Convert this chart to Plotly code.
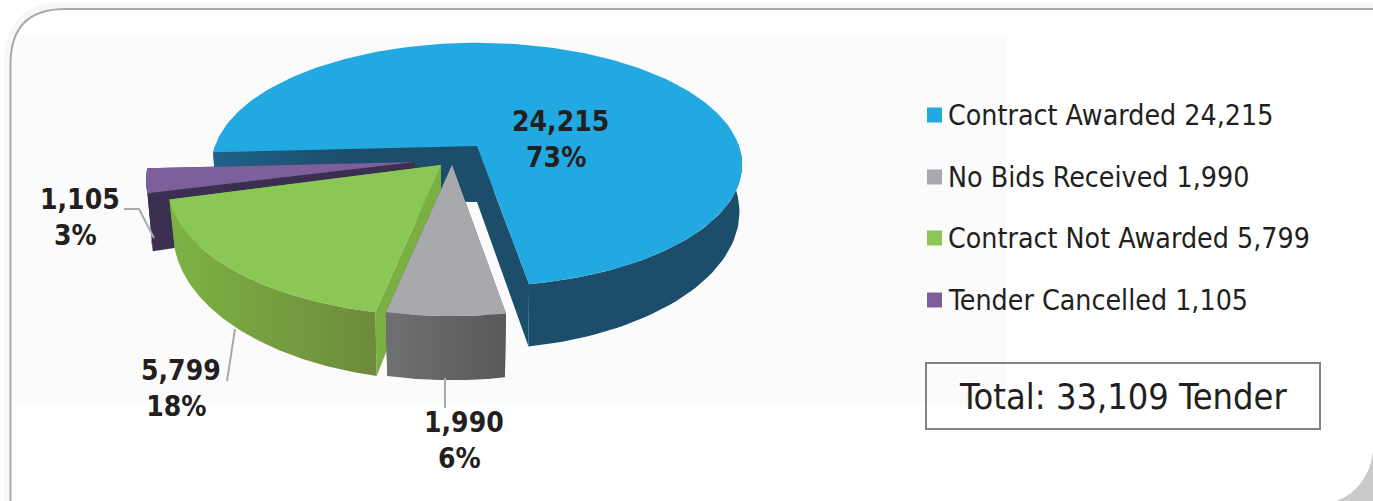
import numpy as np
import plotly.graph_objects as go

categories = ["Contract Awarded", "No Bids Received", "Contract Not Awarded", "Tender Cancelled"]
values = [24215, 1990, 5799, 1105]
total_label = "Total: 33,109 Tender"

top_colors = ["#23a9e1", "#a7a9ac", "#8bc755", "#7d5f9c"]
wall_colors = [[[0, "#1d6288"], [0.25, "#1c4e6b"], [1, "#1c4e6b"]],
               [[0, "#6f7072"], [1, "#58595b"]],
               [[0, "#7cb343"], [1, "#6e8a3c"]],
               [[0, "#3a2f4e"], [1, "#3a2f4e"]]]
inner_colors = ["#1c4e6b", "#58595b", "#7aaf42", "#3a2f4e"]
# apex x, apex y, radius x, radius y, apex depth, rim depth, wall taper
geometry = [(477, 146, 262, 119, 56, 45, 0.99), (452, 165, 272, 128, 50, 46, 0.98),
            (441, 165, 270, 128, 50, 46, 0.98), (415, 162, 266, 118, 50, 53, 0.98)]
label_pos = [(560, 139.5), (464, 440.5), (181, 388.5), (80, 217)]
legend_y = [115, 177, 238, 300]
leaders = [None, ([445, 445], [378, 408]), ([235, 227], [329, 381]), ([124, 139, 154], [209, 209, 238])]

START_DEG = 267.0
PERSPECTIVE = 0.153
INK = "#231f20"
FONT = "DejaVu Sans Condensed, DejaVu Sans"
LINE = "#a7a9ac"

fig = go.Figure()


def poly(xs, ys, color=None, gradient=None):
    kw = dict(fillgradient=dict(type="horizontal", colorscale=gradient)) if gradient else dict(fillcolor=color)
    fig.add_trace(go.Scatter(x=list(xs), y=list(ys), mode="lines", fill="toself", line=dict(width=0),
                             hoverinfo="skip", showlegend=False, **kw))


def rim(t, g):
    ax, ay, rx, ry, _, d, _ = g
    u, v = np.sin(t), np.cos(t)
    s = 1 / (1 + PERSPECTIVE * v)
    return ax + rx * u * s, ay - ry * v * s, d * s ** 2


total = sum(values)
edges = np.radians(START_DEG + np.concatenate([[0], np.cumsum(values)]) / total * 360)

for i in [0, 3, 2, 1]:  # back to front
    g = geometry[i]
    ax, ay, _, _, apex_d, _, taper = g
    t = np.linspace(edges[i], edges[i + 1], 160)
    x, y, d = rim(t, g)
    bx = ax + (x - ax) * taper
    # inner cut walls
    poly([x[0], ax, ax, bx[0]], [y[0], ay, ay + apex_d, y[0] + d[0]], inner_colors[i])
    poly([x[-1], ax, ax, bx[-1]], [y[-1], ay, ay + apex_d, y[-1] + d[-1]], inner_colors[i])
    # outer wall: only the part facing the viewer
    front = np.cos(t) < 0.02
    if front.any():
        poly(np.r_[x[front], bx[front][::-1]], np.r_[y[front], (y + d)[front][::-1]], gradient=wall_colors[i])
    # top face
    poly(np.r_[ax, x, ax], np.r_[ay, y, ay], top_colors[i])

for lead in leaders:
    if lead:
        fig.add_trace(go.Scatter(x=lead[0], y=lead[1], mode="lines", line=dict(color=LINE, width=2),
                                 hoverinfo="skip", showlegend=False))

# legend swatches
fig.add_trace(go.Scatter(x=[934.5] * 4, y=legend_y, mode="markers", hoverinfo="skip", showlegend=False,
                         marker=dict(symbol="square", size=15, color=top_colors, line=dict(width=0))))

ann = []
for name, v, (lx, ly), ly2 in zip(categories, values, label_pos, legend_y):
    ann.append(dict(x=lx, y=ly, text=f"{v:,}<br>{round(v / total * 100)}%&nbsp;", showarrow=False,
                    font=dict(family=FONT, size=28, color=INK, weight=700), align="center"))
    ann.append(dict(x=946, y=ly2, text=f"{name} {v:,}", showarrow=False, xanchor="left",
                    font=dict(family=FONT, size=28.3, color=INK)))
ann.append(dict(x=1123, y=396, text=total_label, showarrow=False, font=dict(family=FONT, size=35.9, color=INK)))

panel = "M 10.5 510 L 10.5 64 Q 10.5 9 65 9 L 1380 9"
halo = "M 7 510 L 7 64 Q 7 5 65 5 L 1380 5"
shapes = [
    dict(type="path", path=halo, line=dict(color="#f7f7f7", width=6), layer="below"),
    dict(type="path", path="M 1373 452 Q 1368 488 1337 501 L 1373 501 Z", fillcolor="#c9cacc", line=dict(width=0), layer="below"),
    dict(type="rect", x0=11, x1=1006, y0=36, y1=402, fillcolor="#fbfbfb", line=dict(width=0), layer="below"),
    dict(type="path", path=panel, line=dict(color="#a7a9ac", width=2), layer="below"),
    dict(type="rect", x0=926, x1=1320, y0=363, y1=429, line=dict(color="#808285", width=2), layer="below"),
]

fig.update_layout(
    width=1373, height=501, margin=dict(l=0, r=0, t=0, b=0), paper_bgcolor="white", plot_bgcolor="rgba(0,0,0,0)",
    xaxis=dict(range=[0, 1373], visible=False, fixedrange=True),
    yaxis=dict(range=[501, 0], visible=False, fixedrange=True),
    shapes=shapes, annotations=ann, showlegend=False,
)
fig.write_html("out.html", config={"displayModeBar": False}, post_script=
               "document.body.style.margin='0';document.documentElement.style.overflow='hidden';")
